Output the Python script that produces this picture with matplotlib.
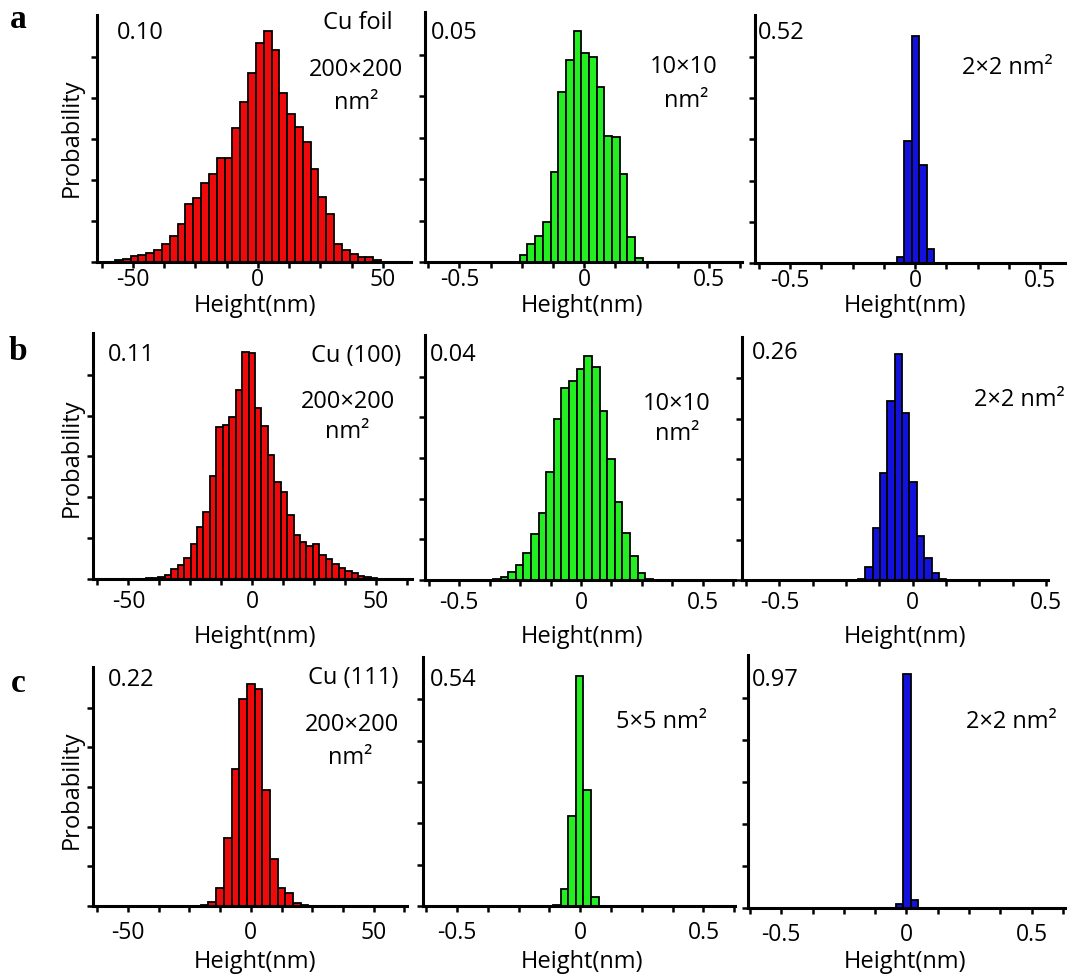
import numpy as np
import matplotlib
matplotlib.use('Agg')
import matplotlib.pyplot as plt

plt.rcParams['font.family'] = ['Open Sans', 'DejaVu Sans']

W, H = 1073, 977

# ---- data: bin start (left edge), bin width, bar heights (probability) ----
# row a : Cu foil
a1_start, a1_width = -57.1, 3.13
a1_heights = [0.0007, 0.0014, 0.0023, 0.0030, 0.0038, 0.0047, 0.0072, 0.0105, 0.0153,
              0.0234, 0.0261, 0.0320, 0.0355, 0.0422, 0.0422, 0.0541, 0.0649, 0.0766,
              0.0885, 0.0935, 0.0858, 0.0685, 0.0599, 0.0545, 0.0484, 0.0378, 0.0264,
              0.0196, 0.0074, 0.0047, 0.0031, 0.0020, 0.0020, 0.0007]
a2_start, a2_width = -0.289, 0.0308
a2_heights = [0.0001, 0.0015, 0.0037, 0.0052, 0.0081, 0.0181, 0.0340, 0.0405, 0.0463,
              0.0418, 0.0410, 0.0350, 0.0253, 0.0251, 0.0177, 0.0051, 0.0009]
a3_start, a3_width = -0.074, 0.030
a3_heights = [0.0126, 0.2562, 0.4760, 0.2046, 0.0293]

# row b : Cu (100)
b1_start, b1_width = -43.1, 2.6
b1_heights = [0.0003, 0.0004, 0.0009, 0.0019, 0.0045, 0.0064, 0.0092, 0.0158, 0.0233,
              0.0301, 0.0462, 0.0680, 0.0689, 0.0724, 0.0844, 0.1015, 0.1011, 0.0765,
              0.0683, 0.0553, 0.0432, 0.0388, 0.0288, 0.0198, 0.0164, 0.0149, 0.0158,
              0.0109, 0.0089, 0.0067, 0.0049, 0.0034, 0.0027, 0.0015, 0.0009, 0.0003,
              0.0001]
b2_start, b2_width = -0.362, 0.0313
b2_heights = [0.0001, 0.0005, 0.0013, 0.0024, 0.0044, 0.0075, 0.0110, 0.0176, 0.0263,
              0.0313, 0.0325, 0.0344, 0.0366, 0.0348, 0.0276, 0.0197, 0.0128, 0.0076,
              0.0040, 0.0011, 0.0001]
b3_start, b3_width = -0.2055, 0.0276
b3_heights = [0.0011, 0.0142, 0.0552, 0.1147, 0.1913, 0.2422, 0.1788, 0.1051, 0.0470,
              0.0232, 0.0071, 0.0011]

# row c : Cu (111)
c1_start, c1_width = -20.4, 3.13
c1_heights = [0.0012, 0.0037, 0.0166, 0.0629, 0.1264, 0.1909, 0.2040, 0.2001, 0.1065,
              0.0436, 0.0166, 0.0123, 0.0031, 0.0012]
c2_start, c2_width = -0.111, 0.031
c2_heights = [0.0014, 0.0376, 0.1945, 0.4981, 0.2508, 0.0195]
c3_start, c3_width = -0.043, 0.030
c3_heights = [0.0166, 0.8970, 0.0294]

# panel labels
y_max_labels = ['0.10', '0.05', '0.52', '0.11', '0.04', '0.26', '0.22', '0.54', '0.97']
size_labels = [['Cu foil', '200×200', 'nm²'], ['10×10', 'nm²'], ['2×2 nm²'],
               ['Cu (100)', '200×200', 'nm²'], ['10×10', 'nm²'], ['2×2 nm²'],
               ['Cu (111)', '200×200', 'nm²'], ['5×5 nm²'], ['2×2 nm²']]

panels = [(a1_start, a1_width, a1_heights), (a2_start, a2_width, a2_heights),
          (a3_start, a3_width, a3_heights), (b1_start, b1_width, b1_heights),
          (b2_start, b2_width, b2_heights), (b3_start, b3_width, b3_heights),
          (c1_start, c1_width, c1_heights), (c2_start, c2_width, c2_heights),
          (c3_start, c3_width, c3_heights)]
colors = ['#ee0a0a', '#22ee22', '#1212dc'] * 3

# axes boxes in pixels: left, right, top, bottom(axis line)
boxes = [(97, 411, 15, 262), (425, 742, 12, 262), (755, 1065, 15, 263),
         (93, 412, 333, 579), (425, 735, 335, 580), (742, 1048, 337, 580),
         (93, 407, 667, 906), (423, 735, 657, 906), (748, 1065, 655, 908)]
xlims = [(-64.3, 61.3), (-0.638, 0.632), (-0.64, 0.60),
         (-64.3, 64.5), (-0.641, 0.633), (-0.64, 0.507),
         (-64.3, 63.6), (-0.638, 0.628), (-0.633, 0.633)]
tick_pads = [0, 0, 0, 4, 4, 4, 7, 7, 7]

fig = plt.figure(figsize=(W / 100, H / 100), dpi=100)


def fx(x):
    return x / W


def fy(y):
    return 1 - y / H


for i, (start, width, heights) in enumerate(panels):
    l, r, t, b = boxes[i]
    ax = fig.add_axes([fx(l), fy(b), (r - l) / W, (b - t) / H])
    ymax = float(y_max_labels[i])
    lefts = start + width * np.arange(len(heights))
    ax.bar(lefts, heights, width=width, align='edge', color=colors[i],
           edgecolor='black', linewidth=1.3)
    ax.set_xlim(*xlims[i])
    ax.set_ylim(0, ymax)
    for s in ['top', 'right']:
        ax.spines[s].set_visible(False)
    for s in ['left', 'bottom']:
        ax.spines[s].set_linewidth(2.2)
    big = i % 3 == 0
    step = 12.5 if big else 0.125
    ticks = np.arange(-5, 6) * step
    ticks = ticks[(ticks >= xlims[i][0]) & (ticks <= xlims[i][1])]
    ax.set_xticks(ticks)
    if big:
        labs = ['%d' % v if abs(v) % 50 == 0 else '' for v in ticks]
    else:
        labs = [('%g' % v) if abs(v) % 0.5 < 1e-9 else '' for v in ticks]
    ax.set_xticklabels(labs)
    ax.set_yticks(np.arange(0, ymax * 0.9, ymax * 0.166))
    ax.set_yticklabels([])
    ax.tick_params(axis='both', direction='out', length=4, width=1.8,
                   labelsize=16.5, pad=tick_pads[i])
    ax.set_facecolor('none')

# "Height(nm)" labels
for row, yb in enumerate([306, 637, 962]):
    for xc in [255, 582, 905]:
        fig.text(fx(xc), fy(yb), 'Height(nm)', ha='center', va='center', fontsize=17)
    fig.text(fx(72), fy([138, 458, 790][row]), 'Probability', rotation=90,
             ha='center', va='center', fontsize=17)

# panel letters
for letter, yl in zip(['a', 'b', 'c'], [20, 352, 684]):
    fig.text(fx(18), fy(yl), letter, ha='center', va='center', fontsize=24,
             fontweight='bold', family='Liberation Serif')

# max value labels
for i, (x, y) in enumerate([(117, 33), (431, 33), (758, 33), (108, 355), (430, 355),
                            (752, 353), (108, 680), (430, 680), (752, 680)]):
    fig.text(fx(x), fy(y), y_max_labels[i], ha='left', va='center', fontsize=17)

# size labels (centre positions)
size_pos = [[(358, 23), (356, 70), (356, 103)], [(684, 67), (686, 101)], [(1007, 68)],
            [(356, 356), (348, 402), (347, 432)], [(677, 404), (677, 434)], [(1019, 400)],
            [(353, 678), (352, 725), (350, 758)], [(661, 722)], [(1011, 722)]]
for labs, poss in zip(size_labels, size_pos):
    for s, (x, y) in zip(labs, poss):
        fig.text(fx(x), fy(y), s, ha='center', va='center', fontsize=17)

fig.savefig('out.png', dpi=100)
